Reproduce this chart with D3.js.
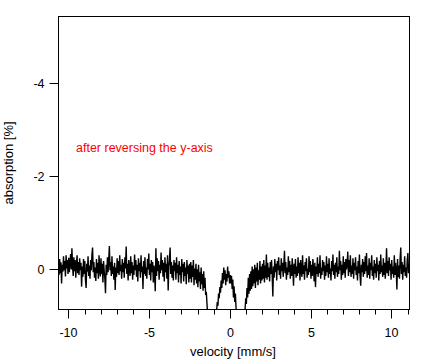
<!DOCTYPE html>
<html><head><meta charset="utf-8">
<script src="https://cdn.jsdelivr.net/npm/d3@7"></script>
<style>
html,body{margin:0;padding:0;background:#fff;}
text{font-family:"Liberation Sans",Arial,sans-serif;}
</style></head>
<body><svg id="c" width="438" height="360"></svg>
<script>
// velocity range covered by the evenly spaced channels
const velocityRange = [-10.62, 11.1];
const xTickValues = d3.range(-10, 12, 1);
const xTickLabels = [-10, -5, 0, 5, 10];
const yTickValues = [-4, -2, 0];
const annotation = "after reversing the y-axis";
// absorption [%] per channel
const absorption = [
-0.05,0.12,-0.22,0.08,-0.15,0.30,-0.10,0.05,-0.28,0.02,-0.18,0.15,-0.30,-0.02,-0.20,0.10,-0.25,0.06,-0.12,-0.33,
0.00,-0.45,-0.08,0.14,-0.26,0.04,-0.20,0.18,-0.10,-0.30,0.08,-0.16,0.12,-0.24,0.02,-0.14,0.37,-0.06,0.16,-0.22,
0.10,-0.18,0.22,0.40,-0.12,0.05,-0.28,0.14,-0.08,0.20,-0.20,0.02,-0.32,-0.47,0.06,-0.16,0.18,-0.04,0.25,-0.22,
0.08,-0.14,0.20,-0.30,0.00,0.15,-0.24,0.10,-0.12,0.28,-0.18,0.04,0.20,0.51,-0.10,0.12,-0.26,0.06,-0.20,-0.50,
0.02,-0.16,0.14,-0.28,0.10,-0.06,0.22,-0.14,0.44,-0.04,0.16,-0.24,0.08,-0.18,0.12,-0.30,0.04,-0.10,0.20,-0.22,
0.06,-0.14,0.18,-0.26,-0.02,-0.49,0.10,-0.12,0.24,-0.20,0.00,0.14,-0.28,0.08,-0.16,0.22,-0.08,0.12,-0.32,0.02,
-0.20,0.16,-0.10,0.26,-0.24,0.04,-0.14,0.18,-0.30,0.06,-0.06,0.42,-0.18,0.10,-0.26,0.14,-0.04,0.20,-0.22,0.00,
-0.34,0.12,-0.12,0.24,-0.20,0.06,-0.16,0.28,-0.08,0.10,0.47,-0.45,0.14,-0.24,0.04,-0.18,0.22,-0.10,0.08,-0.36,
0.02,-0.20,0.16,-0.14,0.26,-0.26,0.06,-0.12,0.20,-0.30,0.45,-0.04,-0.22,-0.47,0.10,-0.16,0.18,-0.08,0.24,-0.20,
0.04,-0.14,0.22,-0.26,0.08,-0.10,0.28,-0.18,0.12,-0.06,0.30,-0.22,0.06,-0.12,0.26,-0.16,0.14,-0.04,0.32,-0.20,
0.10,-0.08,0.28,-0.12,
0.20,-0.16,0.28,-0.08,0.16,-0.20,0.34,-0.02,0.22,-0.12,0.30,0.00,0.38,-0.10,0.26,0.06,0.42,-0.04,0.32,0.10,
0.46,0.04,0.40,0.18,0.55,
0.48,0.72,0.95,
1.10,1.30,1.45,1.55,1.62,1.70,1.66,1.58,1.50,1.40,1.28,1.15,1.02,
0.88,0.70,0.78,0.52,0.62,0.38,0.50,0.24,0.40,
0.08,0.30,-0.04,0.22,0.02,0.34,0.10,0.26,-0.06,0.18,0.04,0.30,0.12,
0.30,0.14,0.42,0.22,0.60,0.36,0.70,0.52,0.82,0.90,
1.05,1.20,1.35,1.45,1.52,1.58,1.55,1.48,1.38,1.25,1.12,0.98,
0.86,0.62,0.74,0.40,0.60,0.18,0.52,0.10,0.46,0.04,0.42,-0.06,
0.36,0.00,0.30,-0.10,0.40,-0.04,0.26,-0.14,0.34,0.02,0.22,-0.18,0.30,-0.06,0.24,-0.12,0.20,-0.20,0.28,-0.08,
0.18,-0.32,0.22,-0.14,0.16,-0.04,0.26,-0.16,
0.10,-0.20,0.14,0.58,-0.06,0.18,-0.22,0.06,-0.12,0.24,-0.18,0.02,-0.26,0.12,-0.08,0.20,-0.24,0.04,-0.14,0.16,
-0.10,-0.40,0.08,-0.16,0.22,-0.04,0.12,-0.28,0.06,-0.18,0.20,-0.10,0.14,-0.24,0.02,0.35,-0.12,0.10,-0.22,0.18,
-0.06,0.14,-0.26,0.08,-0.14,0.24,-0.20,0.00,0.16,-0.30,0.10,-0.08,0.22,-0.16,0.04,-0.24,0.18,-0.02,0.12,-0.28,
0.06,-0.18,0.20,-0.10,0.14,-0.22,0.02,0.26,-0.14,0.38,-0.06,0.10,-0.26,0.16,-0.12,0.08,-0.30,0.20,-0.04,0.12,
-0.20,0.04,-0.16,0.22,-0.08,0.14,-0.28,0.06,-0.12,0.18,-0.24,0.10,-0.02,0.24,-0.18,0.04,-0.32,0.12,-0.10,0.20,
-0.14,0.06,-0.26,0.16,-0.06,0.10,-0.40,0.02,-0.18,0.22,-0.10,0.12,-0.28,0.08,-0.16,0.18,-0.22,0.00,-0.12,-0.38,
0.14,-0.20,0.06,-0.30,0.16,-0.08,0.10,-0.24,0.20,-0.14,0.02,-0.26,0.12,-0.06,0.24,-0.18,0.08,-0.32,0.14,0.35,
-0.10,0.06,-0.22,0.16,-0.16,0.10,-0.28,0.04,-0.35,0.18,-0.08,0.12,-0.24,0.20,-0.14,0.02,-0.30,0.14,-0.06,0.22,
-0.20,0.08,-0.12,0.18,-0.26,0.04,-0.10,0.24,-0.18,0.10,-0.32,0.06,-0.08,0.16,-0.24,0.12,-0.14,0.20,-0.04,-0.45,
0.08,-0.18,0.14,-0.26,0.02,-0.12,0.22,-0.20,0.10,-0.06,0.18,-0.30,0.12,-0.14,0.04,0.43,-0.22,0.16,-0.08,0.20,
-0.24,-0.47,0.10,-0.16,0.22,-0.10,0.06,-0.28,0.14,-0.04,0.18,-0.20,-0.35,0.08,-0.12
];

const L = 58.5, R = 409.5, T = 16.5, B = 309.5;
const svg = d3.select("#c");
const x = d3.scaleLinear().domain([-10.61, 11.12]).range([L, R]);
const y = d3.scaleLinear().domain([-5.42, 0.86]).range([T, B]);
const chan = d3.scaleLinear().domain([0, absorption.length - 1]).range(velocityRange);

svg.append("clipPath").attr("id", "clip").append("rect")
  .attr("x", L).attr("y", T).attr("width", R - L).attr("height", B - T);

const line = d3.line().x((d, i) => x(chan(i))).y(d => y(d));
svg.append("path").datum(absorption)
  .attr("clip-path", "url(#clip)")
  .attr("d", line).attr("fill", "none").attr("stroke", "#000").attr("stroke-width", 1.4);

// frame
svg.append("rect").attr("x", L).attr("y", T).attr("width", R - L).attr("height", B - T)
  .attr("fill", "none").attr("stroke", "#000").attr("stroke-width", 1);

// x axis
const gx = svg.append("g").attr("transform", `translate(0,${B})`);
gx.selectAll("line.tk").data(xTickValues).enter().append("line")
  .attr("x1", d => Math.round(x(d)) + 0.5).attr("x2", d => Math.round(x(d)) + 0.5)
  .attr("y1", 0).attr("y2", d => xTickLabels.includes(d) ? 9 : 5)
  .attr("stroke", "#000");
gx.selectAll("text").data(xTickLabels).enter().append("text")
  .attr("x", d => Math.round(x(d)) + 0.5).attr("y", 27)
  .attr("text-anchor", "middle").attr("font-size", 12.5).attr("fill", "#000")
  .text(d => d);

// y axis
const gy = svg.append("g").attr("transform", `translate(${L},0)`);
gy.selectAll("line").data(yTickValues).enter().append("line")
  .attr("x1", -9).attr("x2", 0)
  .attr("y1", d => Math.round(y(d)) + 0.5).attr("y2", d => Math.round(y(d)) + 0.5)
  .attr("stroke", "#000");
gy.selectAll("text").data(yTickValues).enter().append("text")
  .attr("x", -14).attr("y", d => Math.round(y(d)) + 0.5).attr("dy", "0.35em")
  .attr("text-anchor", "end").attr("font-size", 12.5).attr("fill", "#000")
  .text(d => d);

// titles
svg.append("text").attr("x", (L + R) / 2 - 1).attr("y", 356)
  .attr("text-anchor", "middle").attr("font-size", 13).attr("fill", "#000")
  .text("velocity [mm/s]");
svg.append("text").attr("transform", `translate(13,${(T + B) / 2}) rotate(-90)`)
  .attr("text-anchor", "middle").attr("font-size", 13).attr("fill", "#000")
  .text("absorption [%]");

svg.append("text").attr("x", 76).attr("y", 152)
  .attr("font-size", 12.5).attr("fill", "#ff0000").text(annotation);
</script></body></html>
